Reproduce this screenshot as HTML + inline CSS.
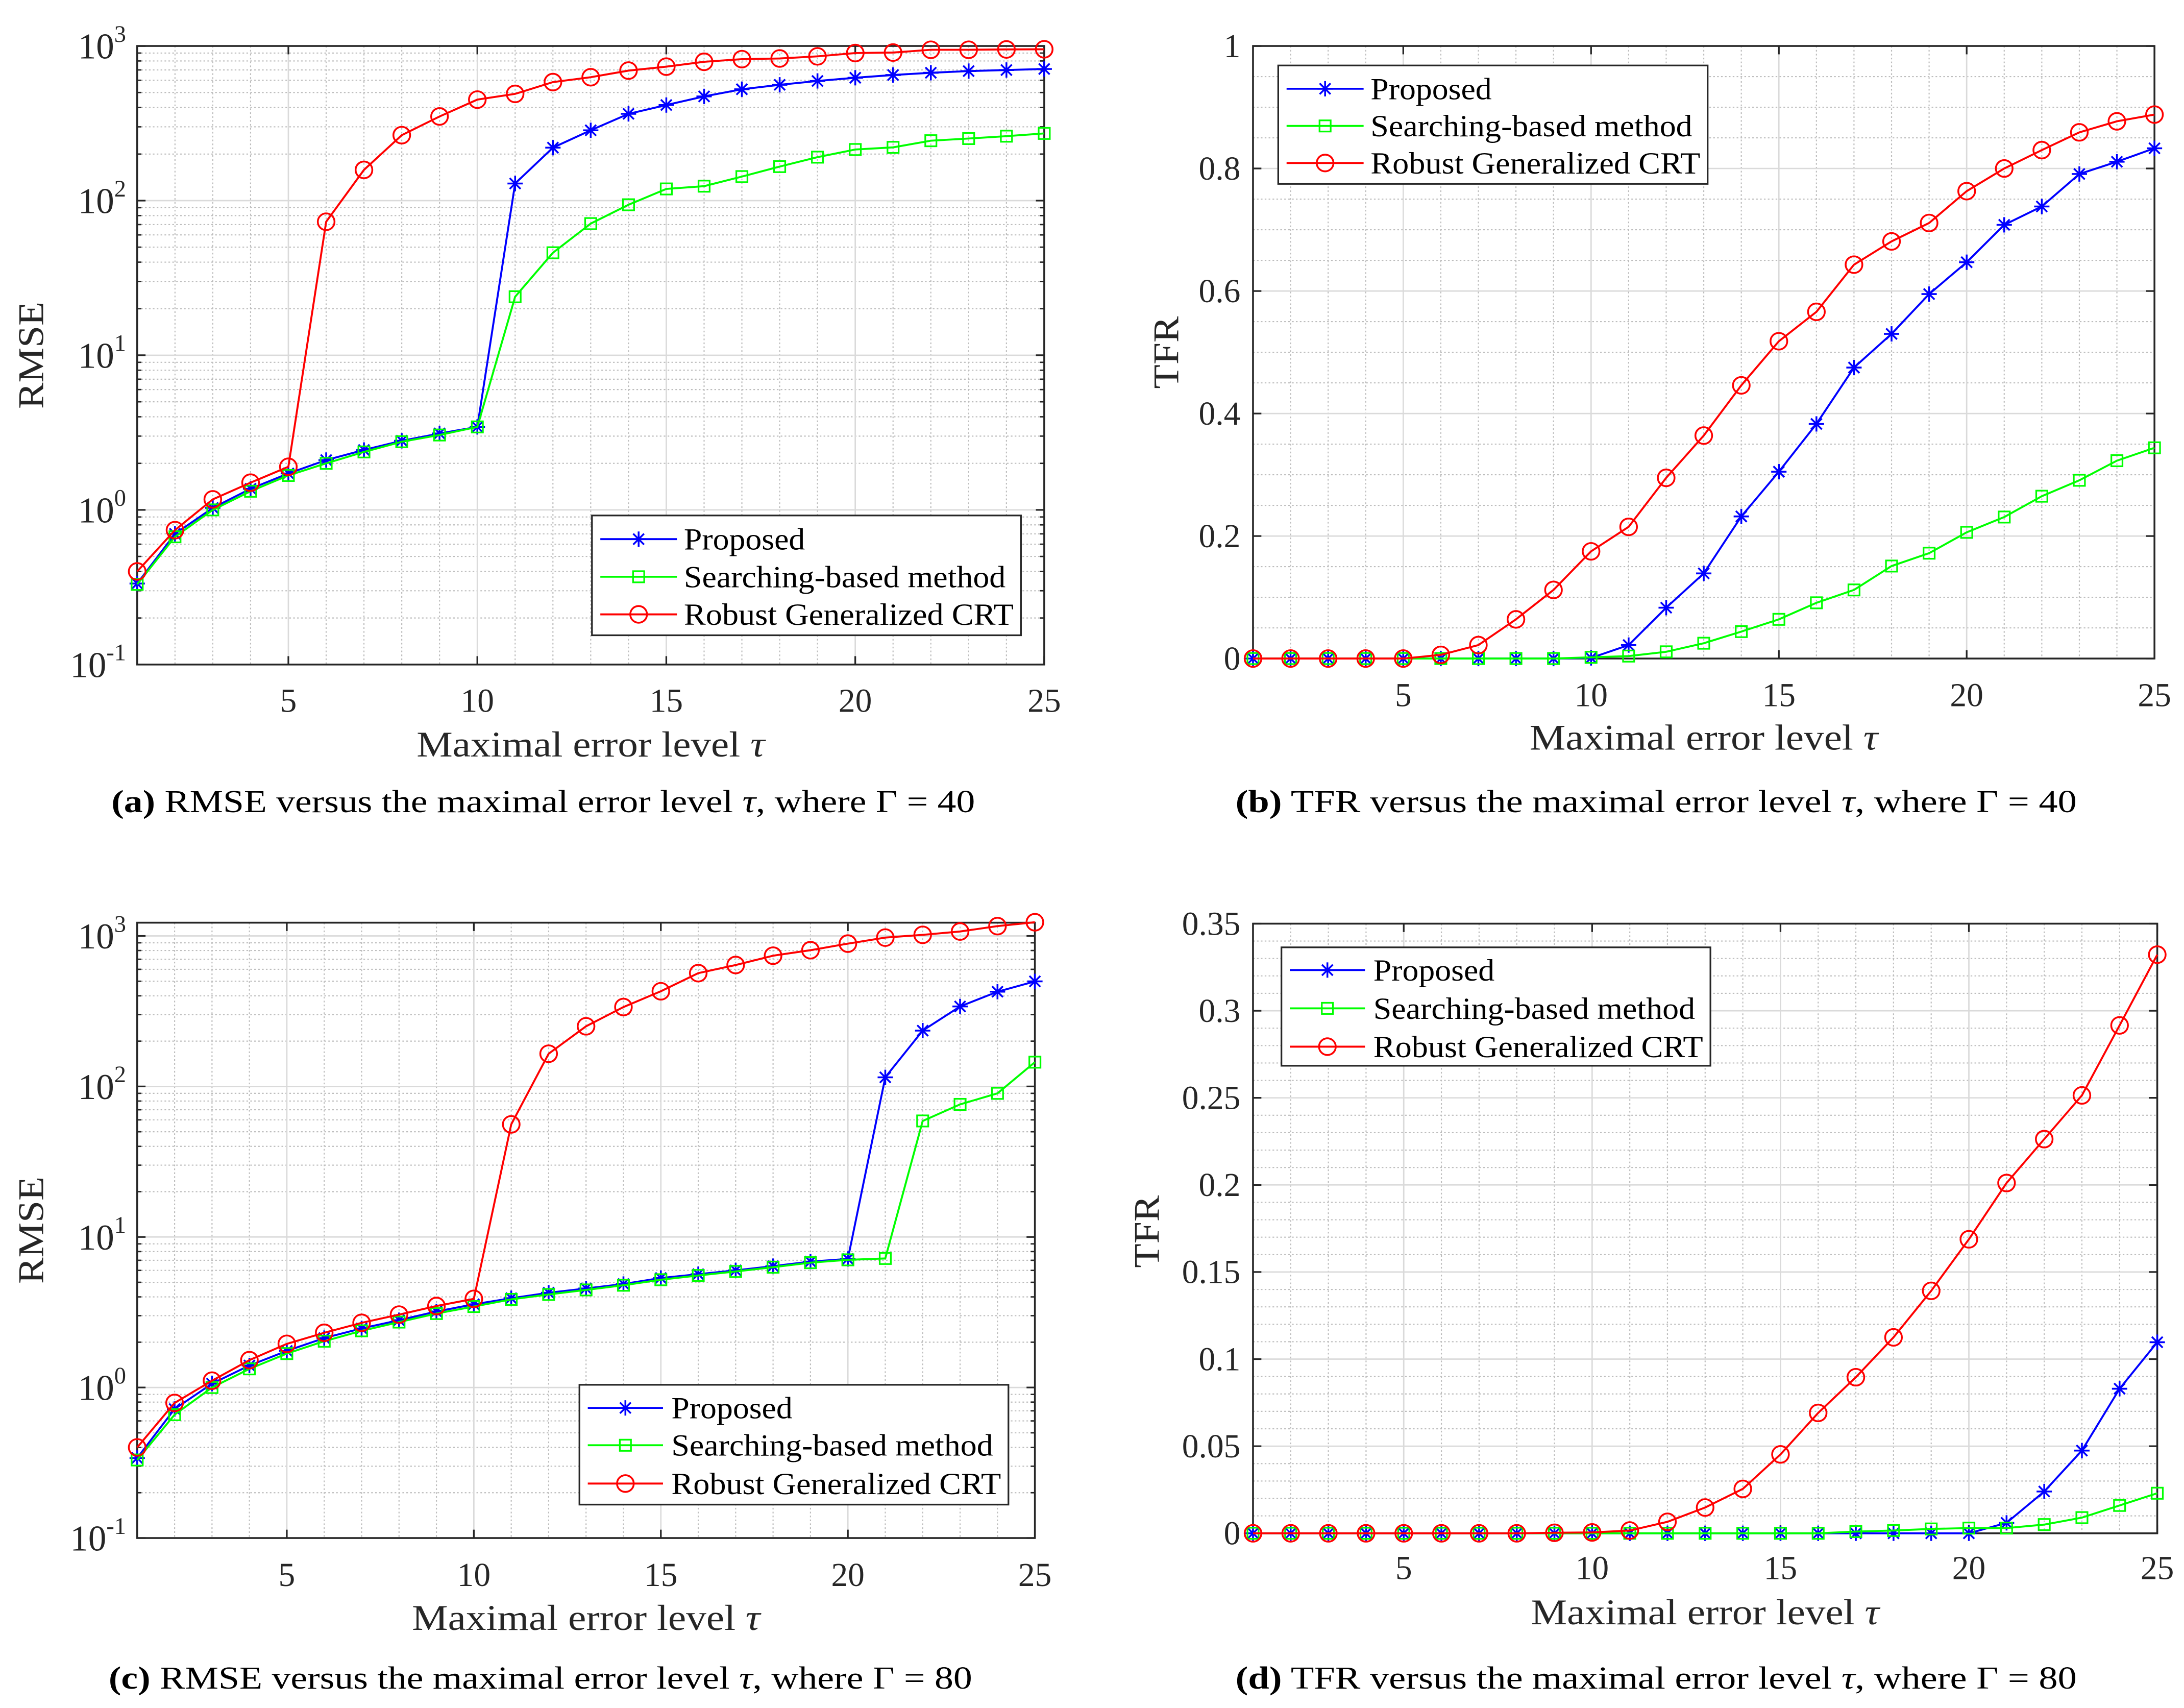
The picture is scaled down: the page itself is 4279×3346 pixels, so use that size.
<!DOCTYPE html>
<html><head><meta charset="utf-8"><title>RMSE and TFR versus maximal error level</title>
<style>html,body{margin:0;padding:0;background:#fff}svg{display:block}</style></head>
<body>
<svg id="fig" xmlns="http://www.w3.org/2000/svg" width="4279" height="3346" viewBox="0 0 1568 1226" preserveAspectRatio="none" font-family="'Liberation Serif', serif"></svg>
<script>
const tau = [1,2,3,4,5,6,7,8,9,10,11,12,13,14,15,16,17,18,19,20,21,22,23,24,25];
const xTicks = [5,10,15,20,25];
const seriesNames = ["Proposed","Searching-based method","Robust Generalized CRT"];
// Panel (a) RMSE, Gamma = 40
const aProposed = [0.334,0.70,1.03,1.37,1.72,2.1,2.44,2.8,3.12,3.44,129,220,285,364,415,472,525,561,594,623,649,671,688,699,710];
const aSearching = [0.33,0.67,1.0,1.32,1.67,2.0,2.37,2.76,3.05,3.44,23.9,46,71,94,119,124,143,166,191,214,221,244,252,261,272];
const aRobust = [0.40,0.74,1.17,1.5,1.9,73,158,265,350,450,490,584,628,693,735,790,822,830,857,900,907,945,945,950,952];
// Panel (b) TFR, Gamma = 40
const bProposed = [0,0,0,0,0,0,0,0,0,0.001,0.022,0.083,0.139,0.232,0.305,0.383,0.475,0.53,0.595,0.647,0.708,0.738,0.791,0.811,0.833];
const bSearching = [0,0,0,0,0,0,0,0,0,0.002,0.004,0.011,0.025,0.044,0.064,0.091,0.112,0.151,0.172,0.206,0.231,0.265,0.291,0.323,0.344];
const bRobust = [0,0,0,0,0,0.006,0.022,0.064,0.112,0.175,0.215,0.295,0.364,0.446,0.518,0.566,0.643,0.681,0.711,0.763,0.8,0.83,0.859,0.877,0.888];
// Panel (c) RMSE, Gamma = 80
const cProposed = [0.34,0.72,1.06,1.4,1.75,2.13,2.47,2.8,3.2,3.57,3.92,4.26,4.55,4.87,5.34,5.66,6.0,6.4,6.86,7.15,115,235,340,426,499];
const cSearching = [0.33,0.66,1.0,1.33,1.68,2.03,2.38,2.72,3.1,3.45,3.85,4.15,4.45,4.78,5.2,5.55,5.9,6.3,6.75,7.05,7.2,59,76,90,145];
const cRobust = [0.40,0.79,1.11,1.52,1.95,2.31,2.69,3.05,3.48,3.88,56,165,251,337,429,566,641,739,804,889,975,1017,1070,1162,1233];
// Panel (d) TFR, Gamma = 80
const dProposed = [0,0,0,0,0,0,0,0,0,0,0,0,0,0,0,0,0,0,0,0,0.006,0.024,0.0475,0.083,0.1097];
const dSearching = [0,0,0,0,0,0,0,0,0,0,0,0,0,0,0,0,0.001,0.0016,0.0025,0.003,0.003,0.005,0.009,0.016,0.023];
const dRobust = [0,0,0,0,0,0,0,0,0.0003,0.0005,0.0016,0.0066,0.0148,0.0255,0.0453,0.0691,0.0896,0.1125,0.1392,0.1688,0.2011,0.2263,0.2514,0.2916,0.3322];
const bYTicks = [0,0.2,0.4,0.6,0.8,1];
const bYLabels = ["0","0.2","0.4","0.6","0.8","1"];
const dYTicks = [0,0.05,0.1,0.15,0.2,0.25,0.3,0.35];
const dYLabels = ["0","0.05","0.1","0.15","0.2","0.25","0.3","0.35"];
const logExps = [-1,0,1,2,3];

const NS = "http://www.w3.org/2000/svg";
const svg = document.getElementById("fig");
function mk(tag, attrs, parent){const e=document.createElementNS(NS,tag);for(const k in attrs)e.setAttribute(k,attrs[k]);(parent||svg).appendChild(e);return e;}
const colors=["#0000ff","#00ff00","#ff0000"];
const AX="#262626";

function panel(c){
  const g=mk("g",{});
  
  
  const xs=v=>c.x0+(v-1)/(24)*(c.x1-c.x0);
  const yv=v=>c.log?Math.log10(Math.max(v,1e-9)):v;
  const ys=v=>c.y1-(yv(v)-c.ymin)/(c.ymax-c.ymin)*(c.y1-c.y0);
  const ysRaw=l=>c.y1-(l-c.ymin)/(c.ymax-c.ymin)*(c.y1-c.y0);
  const grid=mk("g",{},g);
  
  
  for(let i=2;i<25;i++){ if(xTicks.includes(i))continue;
    mk("line",{x1:xs(i),x2:xs(i),y1:c.y0,y2:c.y1,stroke:"#bdbdbd","stroke-width":0.8,"stroke-dasharray":"1.2 1.6"},grid);}
  let minorY=[];
  if(c.log){for(let e=c.ymin;e<Math.floor(c.ymax)+1;e++)for(let m=2;m<=9;m++){const l=e+Math.log10(m);if(l<c.ymax)minorY.push(l);}}
  else{for(let v=c.ymin+c.minor;v<c.ymax-1e-9;v+=c.minor){if(Math.abs(v/c.major-Math.round(v/c.major))>1e-6)minorY.push(v);}}
  minorY.forEach(l=>{const y=ysRaw(l);mk("line",{x1:c.x0,x2:c.x1,y1:y,y2:y,stroke:"#bdbdbd","stroke-width":0.8,"stroke-dasharray":"1.2 1.6"},grid);});
  xTicks.forEach(t=>mk("line",{x1:xs(t),x2:xs(t),y1:c.y0,y2:c.y1,stroke:"#dadada","stroke-width":1},grid));
  const majors=c.log?logExps:c.yTicks;
  majors.forEach(t=>{const y=ysRaw(t);mk("line",{x1:c.x0,x2:c.x1,y1:y,y2:y,stroke:"#dadada","stroke-width":1},grid);});
  xTicks.forEach(t=>{mk("line",{x1:xs(t),x2:xs(t),y1:c.y1,y2:c.y1-6,stroke:AX,"stroke-width":1.2},g);mk("line",{x1:xs(t),x2:xs(t),y1:c.y0,y2:c.y0+6,stroke:AX,"stroke-width":1.2},g);
    const tl=mk("text",{x:xs(t),y:c.xtickY,"font-size":24,"text-anchor":"middle",fill:AX},g);tl.textContent=t;
    
    });
  majors.forEach((t,i)=>{const y=ysRaw(t);mk("line",{x1:c.x0,x2:c.x0+6,y1:y,y2:y,stroke:AX,"stroke-width":1.2},g);mk("line",{x1:c.x1,x2:c.x1-6,y1:y,y2:y,stroke:AX,"stroke-width":1.2},g);
    let tl;
    if(c.log){tl=mk("text",{x:c.x0-8,y:y+9,"font-size":26,"text-anchor":"end",fill:AX},g);
      const a=mk("tspan",{},tl);a.textContent="10";const b=mk("tspan",{"font-size":17,dy:-12},tl);b.textContent=String(t);
    }else{tl=mk("text",{x:c.x0-9,y:y+8,"font-size":24,"text-anchor":"end",fill:AX},g);tl.textContent=c.yLabels[i];}
    
    });
  if(c.log){minorY.forEach(l=>{const y=ysRaw(l);mk("line",{x1:c.x0,x2:c.x0+3,y1:y,y2:y,stroke:AX,"stroke-width":1},g);mk("line",{x1:c.x1,x2:c.x1-3,y1:y,y2:y,stroke:AX,"stroke-width":1},g);});}
  const box=mk("rect",{x:c.x0,y:c.y0,width:c.x1-c.x0,height:c.y1-c.y0,fill:"none",stroke:AX,"stroke-width":1.3},g);
  
  
  c.series.forEach((s,si)=>{
    const sg=mk("g",{},g);
    
    
    const pts=tau.map((t,i)=>xs(t).toFixed(2)+","+ys(s[i]).toFixed(2)).join(" ");
    mk("polyline",{points:pts,fill:"none",stroke:colors[si],"stroke-width":1.4},sg);
    tau.forEach((t,i)=>{const m=marker(si,xs(t),ys(s[i]),sg);
      
      });
  });
  const L=c.leg;
  const lg=mk("g",{},g);
  
  
  mk("rect",{x:L.x0,y:L.y0,width:L.x1-L.x0,height:L.y1-L.y0,fill:"#fff",stroke:AX,"stroke-width":1.2},lg);
  seriesNames.forEach((n,i)=>{const y=L.rows[i];
    const eg=mk("g",{},lg);
    
    
    mk("line",{x1:L.lx0,x2:L.lx1,y1:y,y2:y,stroke:colors[i],"stroke-width":1.4},eg);
    marker(i,(L.lx0+L.lx1)/2,y,eg);
    const t=mk("text",{x:L.tx,y:y+7.5,"font-size":22,fill:"#000",textLength:[87,231,236.7][i],lengthAdjust:"spacingAndGlyphs"},eg);t.textContent=n;});
  const xl=mk("text",{x:(c.x0+c.x1)/2,y:c.xlabelY,"font-size":26,"text-anchor":"middle",fill:AX,textLength:250,lengthAdjust:"spacingAndGlyphs"},g);
  
  
  const t1=mk("tspan",{},xl);t1.textContent="Maximal error level ";const t2=mk("tspan",{"font-style":"italic"},xl);t2.textContent="τ";
  const yl=mk("text",{x:0,y:0,"font-size":26,"text-anchor":"middle",fill:AX,transform:`translate(${c.ylabelX},${c.ylabelY}) rotate(-90)`,textLength:c.ylabelLen,lengthAdjust:"spacingAndGlyphs"},g);
  
  
  yl.textContent=c.ylabel;
  const cap=mk("text",{x:c.capX,y:c.capY,"font-size":23,"text-anchor":"middle",fill:"#000",textLength:c.capLen,lengthAdjust:"spacingAndGlyphs"},g);
  
  
  const p=mk("tspan",{"font-weight":"bold"},cap);p.textContent="("+c.letter+")";
  const q=mk("tspan",{},cap);q.textContent=" "+c.capText+" ";
  const r=mk("tspan",{"font-style":"italic"},cap);r.textContent="τ";
  const s2=mk("tspan",{},cap);s2.textContent=", where Γ = "+c.gamma;
}
function marker(si,x,y,parent){
  const col=colors[si];
  if(si===0){const g=mk("g",{stroke:col,"stroke-width":1.3},parent);const r=5.5,d=3.9;
    mk("line",{x1:x-r,x2:x+r,y1:y,y2:y},g);mk("line",{x1:x,x2:x,y1:y-r,y2:y+r},g);
    mk("line",{x1:x-d,x2:x+d,y1:y-d,y2:y+d},g);mk("line",{x1:x-d,x2:x+d,y1:y+d,y2:y-d},g);return g;}
  if(si===1)return mk("rect",{x:x-4,y:y-4,width:8,height:8,fill:"none",stroke:col,"stroke-width":1.2},parent);
  return mk("circle",{cx:x,cy:y,r:6,fill:"none",stroke:col,"stroke-width":1.3},parent);
}
panel({name:"panel-a-rmse-gamma-40",letter:"a",x0:98.5,x1:749.7,y0:33,y1:477,log:true,ymin:-1,ymax:3,
  series:[aProposed,aSearching,aRobust],xtickY:511,xlabelY:543,ylabel:"RMSE",ylabelX:31,ylabelY:255,ylabelLen:77,
  capX:390,capY:583,capLen:620,capText:"RMSE versus the maximal error level",gamma:40,
  leg:{x0:425,x1:733,y0:370,y1:456,rows:[387,414,441],lx0:431,lx1:486,tx:491}});
panel({name:"panel-b-tfr-gamma-40",letter:"b",x0:899.6,x1:1546.8,y0:33,y1:472.7,log:false,ymin:0,ymax:1,major:0.2,minor:0.05,
  yTicks:bYTicks,yLabels:bYLabels,series:[bProposed,bSearching,bRobust],xtickY:507,xlabelY:538,ylabel:"TFR",ylabelX:846,ylabelY:253,ylabelLen:52,
  capX:1189,capY:583,capLen:604,capText:"TFR versus the maximal error level",gamma:40,
  leg:{x0:917.7,x1:1226,y0:47,y1:132,rows:[63.7,90.4,117],lx0:923.7,lx1:979,tx:984}});
panel({name:"panel-c-rmse-gamma-80",letter:"c",x0:98.5,x1:743,y0:662.3,y1:1104,log:true,ymin:-1,ymax:3.088,
  series:[cProposed,cSearching,cRobust],xtickY:1138.5,xlabelY:1170,ylabel:"RMSE",ylabelX:31,ylabelY:883,ylabelLen:77,
  capX:388,capY:1212,capLen:620,capText:"RMSE versus the maximal error level",gamma:80,
  leg:{x0:416,x1:724,y0:994,y1:1080,rows:[1010.6,1037.4,1064.9],lx0:422,lx1:476,tx:482}});
panel({name:"panel-d-tfr-gamma-80",letter:"d",x0:899.6,x1:1548.8,y0:663,y1:1100.6,log:false,ymin:0,ymax:0.35,major:0.05,minor:0.01,
  yTicks:dYTicks,yLabels:dYLabels,series:[dProposed,dSearching,dRobust],xtickY:1133.5,xlabelY:1166,ylabel:"TFR",ylabelX:832,ylabelY:884,ylabelLen:52,
  capX:1189,capY:1212,capLen:604,capText:"TFR versus the maximal error level",gamma:80,
  leg:{x0:920,x1:1228,y0:680,y1:765,rows:[696.3,723.8,751.3],lx0:926,lx1:980,tx:986}});
</script>
</body></html>
